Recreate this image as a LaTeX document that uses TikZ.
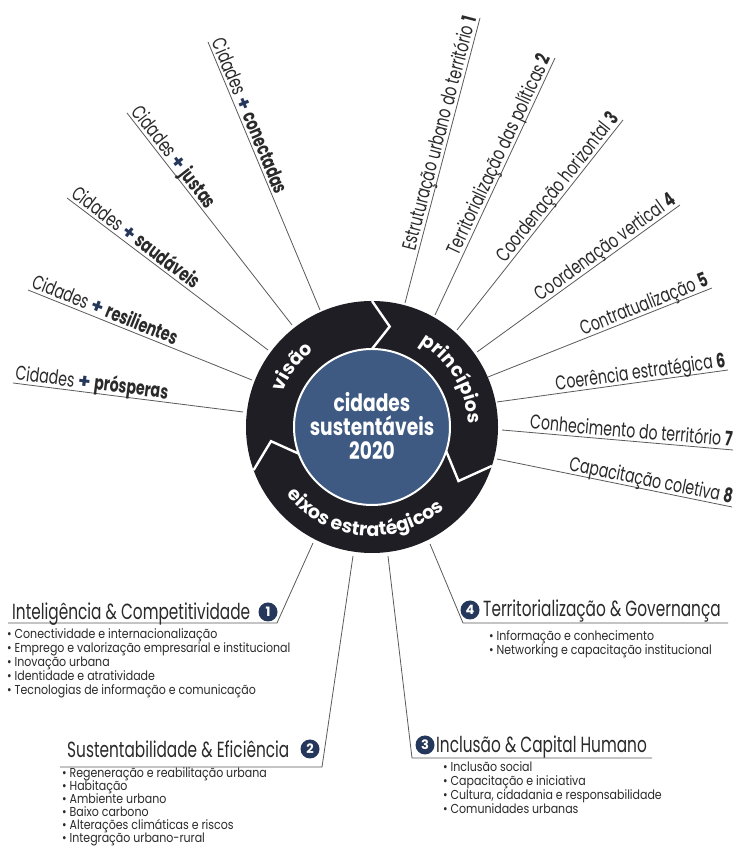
\documentclass[tikz,border=0pt]{standalone}
\usepackage{fontspec}
\setmainfont{Poppins}
\newfontfamily\condf{Poppins}[FakeStretch=0.71]
\newfontfamily\headf{Poppins}[FakeStretch=0.70]
\newfontfamily\bulf{Poppins}[FakeStretch=0.85]
\newfontfamily\ctrf{Poppins}[FakeStretch=0.78]
\newfontfamily\plainf{Poppins}
\usetikzlibrary{decorations.text}
\definecolor{ringc}{HTML}{1E1E24}
\definecolor{corec}{HTML}{3E5A82}
\definecolor{navy}{HTML}{25375A}
\definecolor{ink}{HTML}{2A2A2A}
\definecolor{rulec}{HTML}{5A5A5A}
\newcommand\plusmark{{\plainf\bfseries\color{navy}+}}
\newcommand\ringtxt{\plainf\bfseries\fontsize{19}{19}\selectfont\color{white}}
\tikzset{
 ln/.style={draw=rulec, line width=0.8bp},
 lab/.style={font=\condf\fontsize{20}{23}\selectfont, text=ink, text depth=0pt, inner xsep=1bp, inner ysep=3bp, sloped},
 labL/.style={lab, pos=0, anchor=south west},
 labR/.style={lab, pos=1, anchor=south east},
 head/.style={font=\headf\fontsize{22}{25}\selectfont, text=ink, anchor=base west, inner sep=0pt},
 bul/.style={font=\bulf\fontsize{13}{14}\selectfont, text=ink, anchor=base west, inner sep=0pt},
 num/.style={circle, fill=navy, text=white, font=\plainf\bfseries\fontsize{13}{13}\selectfont, inner sep=0pt, minimum size=19bp},
 junc/.style={draw=white, line width=2.4bp, line join=miter},
}
\begin{document}
\begin{tikzpicture}[x=1bp,y=1bp]
\useasboundingbox[fill=white] (0,0) rectangle (734,849);
\coordinate (C) at (372,422);
% ring
\fill[ringc] (C) circle[radius=126];
\begin{scope}[shift={(C)}]
 \draw[junc] (90:126) -- (80:102) -- (90:78);
 \draw[junc] (-18:126) -- (-32:102) -- (-18:78);
 \draw[junc] (200:126) -- (188:102) -- (200:78);
 \path[decorate, decoration={text along path, text={|\ringtxt|visão}, text align=center}]
   (168:96) arc[start angle=168, end angle=118, radius=96];
 \path[decorate, decoration={text along path, text={|\ringtxt|princípios}, text align=center}]
   (78:96) arc[start angle=78, end angle=-16, radius=96];
 \path[decorate, decoration={text along path, text={|\ringtxt|eixos estratégicos}, text align=center}]
   (185:109) arc[start angle=185, end angle=345, radius=109];
\end{scope}
\node[circle, fill=corec, draw=white, line width=2bp, minimum size=156bp, inner sep=0pt] (core) at (C) {};
\node[align=center, text=white, font=\ctrf\bfseries\fontsize{24}{24.5}\selectfont] (title) at (372,423) {cidades\\sustentáveis\\2020};

% vision lines
\coordinate (l1a) at (13,466);  \coordinate (l1b) at (243,437);
\coordinate (l2a) at (28,559);  \coordinate (l2b) at (252,469);
\coordinate (l3a) at (67,651);  \coordinate (l3b) at (268,499);
\coordinate (l4a) at (127,736); \coordinate (l4b) at (292,524);
\coordinate (l5a) at (208,807); \coordinate (l5b) at (320,539);
\draw[ln] (l1a) -- (l1b) node[labL] (t1) {Cidades \plusmark{} \textbf{prósperas}};
\draw[ln] (l2a) -- (l2b) node[labL] (t2) {Cidades \plusmark{} \textbf{resilientes}};
\draw[ln] (l3a) -- (l3b) node[labL] (t3) {Cidades \plusmark{} \textbf{saudáveis}};
\draw[ln] (l4a) -- (l4b) node[labL] (t4) {Cidades \plusmark{} \textbf{justas}};
\draw[ln] (l5a) -- (l5b) node[labL] (t5) {Cidades \plusmark{} \textbf{conectadas}};

% principle lines
\coordinate (r1a) at (405,546); \coordinate (r1b) at (480,831);
\coordinate (r2a) at (435,534); \coordinate (r2b) at (555,791);
\coordinate (r3a) at (457,519); \coordinate (r3b) at (623,729);
\coordinate (r4a) at (477,497); \coordinate (r4b) at (680,644);
\coordinate (r5a) at (488,472); \coordinate (r5b) at (712,561);
\coordinate (r6a) at (497,447); \coordinate (r6b) at (728,479);
\coordinate (r7a) at (502,419); \coordinate (r7b) at (733,399);
\coordinate (r8a) at (497,390); \coordinate (r8b) at (732,342);
\draw[ln] (r1a) -- (r1b) node[labR] (p1) {Estruturação urbano do território \textbf{1}};
\draw[ln] (r2a) -- (r2b) node[labR] (p2) {Territorialização das políticas \textbf{2}};
\draw[ln] (r3a) -- (r3b) node[labR] (p3) {Coordenação horizontal \textbf{3}};
\draw[ln] (r4a) -- (r4b) node[labR] (p4) {Coordenação vertical \textbf{4}};
\draw[ln] (r5a) -- (r5b) node[labR] (p5) {Contratualização \textbf{5}};
\draw[ln] (r6a) -- (r6b) node[labR] (p6) {Coerência estratégica \textbf{6}};
\draw[ln] (r7a) -- (r7b) node[labR] (p7) {Conhecimento do território \textbf{7}};
\draw[ln] (r8a) -- (r8b) node[labR] (p8) {Capacitação coletiva \textbf{8}};

% axes
\coordinate (e1a) at (313,306); \coordinate (e1b) at (277,226); \coordinate (e1c) at (8,226);
\coordinate (e2a) at (353,293); \coordinate (e2b) at (322,82);  \coordinate (e2c) at (60,82);
\coordinate (e3a) at (388,293); \coordinate (e3b) at (412,91);  \coordinate (e3c) at (652,91);
\coordinate (e4a) at (430,305); \coordinate (e4b) at (463,226); \coordinate (e4c) at (728,226);
\draw[ln] (e1a) -- (e1b) -- (e1c);
\draw[ln] (e2a) -- (e2b) -- (e2c);
\draw[ln] (e3a) -- (e3b) -- (e3c);
\draw[ln] (e4a) -- (e4b) -- (e4c);

\node[head] (h1) at (12,229) {Inteligência \& Competitividade};
\node[num] (n1) at (268,237) {1};
\node[head] (h2) at (67,91) {Sustentabilidade \& Eficiência};
\node[num] (n2) at (310,100) {2};
\node[num] (n3) at (425,104) {3};
\node[head] (h3) at (436,96) {Inclusão \& Capital Humano};
\node[num] (n4) at (470,239) {4};
\node[head] (h4) at (483,232) {Territorialização \& Governança};

\foreach \t [count=\i] in {Conectividade e internacionalização, Emprego e valorização empresarial e institucional, Inovação urbana, Identidade e atratividade, Tecnologias de informação e comunicação}
  \node[bul, name=ba\i] at (7,{210-13.8*(\i-1)}) {• \t};
\foreach \t [count=\i] in {Regeneração e reabilitação urbana, Habitação, Ambiente urbano, Baixo carbono, Alterações climáticas e riscos, Integração urbano-rural}
  \node[bul, name=bb\i] at (62,{71-13*(\i-1)}) {• \t};
\foreach \t [count=\i] in {Inclusão social, Capacitação e iniciativa, {Cultura, cidadania e responsabilidade}, Comunidades urbanas}
  \node[bul, name=bc\i] at (443,{77-14*(\i-1)}) {• \t};
\foreach \t [count=\i] in {Informação e conhecimento, Networking e capacitação institucional}
  \node[bul, name=bd\i] at (489,{208-13.5*(\i-1)}) {• \t};
\end{tikzpicture}
\end{document}
